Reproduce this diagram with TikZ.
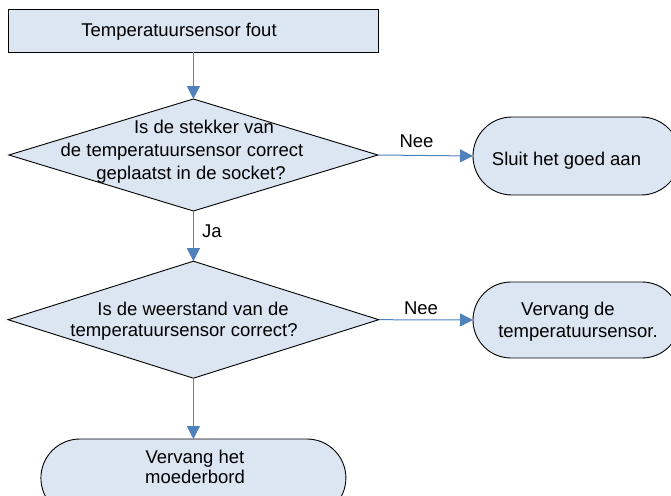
\documentclass[tikz,border=0pt]{standalone}
\usepackage{fontspec}
\setmainfont{Liberation Sans}
\usetikzlibrary{shapes.geometric,shapes.misc,arrows.meta}
\definecolor{boxfill}{HTML}{DCE6F2}
\definecolor{arrowblue}{HTML}{4F81BD}
\tikzset{
  shapebase/.style={draw=black, fill=boxfill, line width=0.9pt, inner sep=0pt, outer sep=0pt},
  procbox/.style={shapebase, rectangle},
  decbox/.style={shapebase, diamond},
  termbox/.style={shapebase, rounded rectangle},
  txt/.style={anchor=base, inner sep=0pt, font=\fontsize{18.5}{22}\selectfont},
  flow/.style={draw=arrowblue, line width=1pt, -{Triangle[width=13pt,length=13pt]}}
}
\begin{document}
\begin{tikzpicture}[x=1pt,y=-1pt]
\useasboundingbox (0,0) rectangle (671,495);
\clip (0,0) rectangle (671,495);
% shapes
\node[procbox, minimum width=370.7pt, minimum height=43pt] (start) at (193.4,30.8) {};
\node[decbox, minimum width=369pt, minimum height=112pt] (q1) at (193.4,155) {};
\node[termbox, minimum width=207pt, minimum height=78pt] (fix) at (576.5,156) {};
\node[decbox, minimum width=370.7pt, minimum height=117pt] (q2) at (193.4,319.7) {};
\node[termbox, minimum width=207pt, minimum height=76pt] (repl) at (576.5,320) {};
\node[termbox, minimum width=305pt, minimum height=78pt] (board) at (193.4,478) {};
% texts
\node[txt] (t0) at (179,36.7) {Temperatuursensor fout};
\node[txt] (t1a) at (204,133.3) {Is de stekker van};
\node[txt] (t1b) at (182,156.5) {de temperatuursensor correct};
\node[txt] (t1c) at (191,179.5) {geplaatst in de socket?};
\node[txt] (t2a) at (193,315) {Is de weerstand van de};
\node[txt] (t2b) at (184,336.7) {temperatuursensor correct?};
\node[txt] (t3) at (566.5,165) {Sluit het goed aan};
\node[txt] (t4a) at (568,315) {Vervang de};
\node[txt] (t4b) at (578,337) {temperatuursensor.};
\node[txt] (t5a) at (195,463) {Vervang het};
\node[txt] (t5b) at (195,483.5) {moederbord};
% connectors
\draw[flow] (start.south) -- (q1.north);
\draw[flow] (q1.south) -- (q2.north);
\draw[flow] (q2.south) -- (board.north);
\draw[flow] (q1.east) -- (fix.west);
\draw[flow] (q2.east) -- (repl.west);
% labels
\node[txt] (ja) at (212,237) {Ja};
\node[txt] (nee1) at (416.5,147) {Nee};
\node[txt] (nee2) at (421,314) {Nee};
\end{tikzpicture}
\end{document}
